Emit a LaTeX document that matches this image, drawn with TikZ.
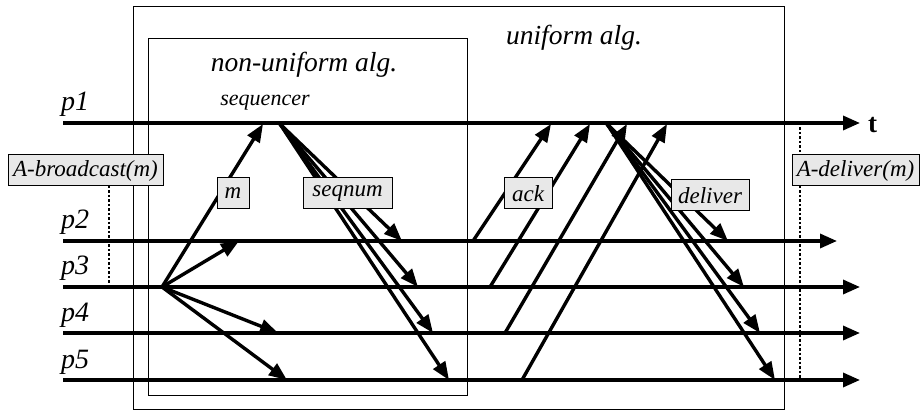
\documentclass[tikz,border=0pt]{standalone}
\usepackage{fontspec}
\setmainfont{Liberation Serif}
\usetikzlibrary{arrows.meta}
\begin{document}
\begin{tikzpicture}[x=1pt,y=-1pt,
  timeline/.style={line width=3.4pt,-{Triangle[length=17pt,width=14pt]}},
  msg/.style={line width=3.4pt,-{Triangle[length=18pt,width=14pt]}},
  biglbl/.style={font=\fontsize{27.5}{29}\selectfont\itshape, inner sep=0pt},
  plbl/.style={font=\fontsize{28}{30}\selectfont\itshape, inner sep=0pt, anchor=base west},
  tag/.style={draw, line width=1pt, fill=black!9, font=\fontsize{23}{25}\selectfont\itshape, inner sep=0pt, minimum height=31pt},
  frame/.style={draw, line width=1pt},
  dots/.style={line width=1.2pt, dash pattern=on 2.5pt off 2pt}
]
\useasboundingbox (0,0) rectangle (920,411);
% frames
\draw[frame] (133,7) rectangle (784,409);
\draw[frame] (148,39) rectangle (467,395);
\node[biglbl] (nu) at (304,65) {non-uniform alg.};
\node[biglbl] (u) at (574,38) {uniform alg.};
\node[font=\fontsize{22}{24}\selectfont\itshape, inner sep=0pt] (sq) at (265,103) {sequencer};
% process lines
\foreach \n/\y/\e in {1/123/860, 2/241/837, 3/287/860, 4/333/860, 5/380/860}{
  \coordinate (p\n s) at (63,\y);
  \coordinate (p\n e) at (\e,\y);
  \draw[timeline] (p\n s) -- (p\n e);
  \node[plbl] (lp\n) at (61,\y-12) {p\n};
}
\node[font=\fontsize{27}{29}\selectfont\bfseries, anchor=west, inner sep=0pt] (t) at (868,125) {t};
% dotted markers
\coordinate (bd1) at (109,186);
\coordinate (bd2) at (109,287);
\coordinate (dd1) at (800,123);
\coordinate (dd2) at (800,380);
\draw[dots] (bd1) -- (bd2);
\draw[dots] (dd1) -- (dd2);
% message m from p3
\coordinate (b) at (162,287);
\coordinate (seq) at (263,124);
\coordinate (m2) at (239,241);
\coordinate (m4) at (278,333);
\coordinate (m5) at (287,380);
\foreach \t in {seq,m2,m4,m5}{\draw[msg] (b) -- (\t);}
% seqnum
\coordinate (s0) at (280,124);
\coordinate (s2) at (402,241);
\coordinate (s3) at (418,287);
\coordinate (s4) at (433,333);
\coordinate (s5) at (449,380);
\foreach \t in {s2,s3,s4,s5}{\draw[msg] (s0) -- (\t);}
% acks
\coordinate (a2) at (473,241); \coordinate (a2e) at (551,124);
\coordinate (a3) at (490,287); \coordinate (a3e) at (590,124);
\coordinate (a4) at (505,333); \coordinate (a4e) at (627,124);
\coordinate (a5) at (522,380); \coordinate (a5e) at (667,124);
\foreach \t in {2,3,4,5}{\draw[msg] (a\t) -- (a\t e);}
% deliver
\coordinate (d0) at (607,124);
\coordinate (d2) at (728,241);
\coordinate (d3) at (744,287);
\coordinate (d4) at (760,333);
\coordinate (d5) at (775,380);
\foreach \t in {d2,d3,d4,d5}{\draw[msg] (d0) -- (\t);}
% tags
\node[tag, minimum width=155pt] (ab) at (85.5,170.5) {A-broadcast(m)};
\node[tag, minimum width=127pt] (ad) at (855.5,170.5) {A-deliver(m)};
\node[tag, minimum width=32pt] (mt) at (233,193.5) {m};
\node[tag, minimum width=89pt] (st) at (347.5,193.5) {seqnum};
\node[tag, minimum width=48pt] (at) at (528,193.5) {ack};
\node[tag, minimum width=78pt] (dt) at (710,195.5) {deliver};
\end{tikzpicture}
\end{document}
